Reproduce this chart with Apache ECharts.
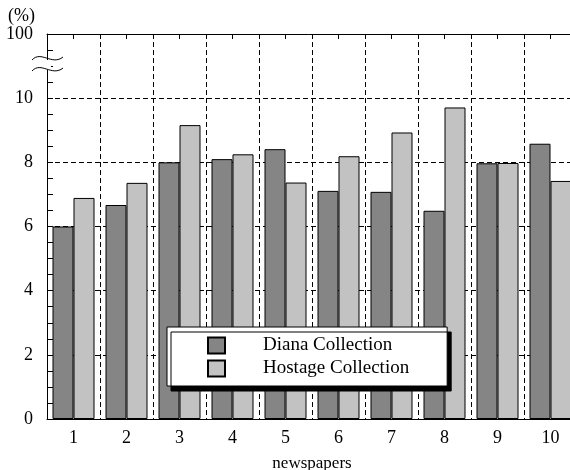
<!DOCTYPE html>
<html>
<head>
<meta charset="utf-8">
<title>Diana vs Hostage Collection</title>
<script src="https://cdn.jsdelivr.net/npm/echarts@6/dist/echarts.min.js"></script>
<style>
  html, body { margin: 0; padding: 0; background: #fff; }
  #chart { width: 570px; height: 470px; }
</style>
</head>
<body>
<div id="chart"></div>
<script>
// data
var newspapers = ['1', '2', '3', '4', '5', '6', '7', '8', '9', '10'];
var dianaShare = [6.0, 6.67, 8.0, 8.1, 8.41, 7.11, 7.08, 6.49, 7.97, 8.58];
var hostageShare = [6.89, 7.36, 9.16, 8.25, 7.37, 8.19, 8.93, 9.71, 7.98, 7.42];
// the top of the axis (12 on the linear scale) stands for 100 after the break
var yTickLabels = { 0: '0', 2: '2', 4: '4', 6: '6', 8: '8', 10: '10', 12: '100' };

var serif = '"Liberation Serif", "DejaVu Serif", serif';
var dashed = { color: '#000', width: 1, type: [5, 3] };

var chart = echarts.init(document.getElementById('chart'));

var option = {
  animation: false,
  backgroundColor: '#fff',
  // plot runs past the right edge in the original, so no clamping
  grid: { left: 47, right: -7, top: 34, bottom: 51, outerBoundsMode: 'none' },
  legend: {
    orient: 'vertical',
    left: 167,
    top: 327,
    icon: 'rect',
    itemWidth: 17,
    itemHeight: 16,
    itemGap: 4,
    padding: [9, 38, 8, 40],
    backgroundColor: '#fff',
    borderColor: '#000',
    borderWidth: 1,
    shadowColor: '#000',
    shadowBlur: 0,
    shadowOffsetX: 4,
    shadowOffsetY: 5,
    textStyle: { fontFamily: serif, fontSize: 19, color: '#000', padding: [0, 0, 0, 33] }
  },
  xAxis: [
    {
      type: 'category',
      data: newspapers,
      name: 'newspapers',
      nameLocation: 'middle',
      nameGap: 36,
      nameTextStyle: { fontFamily: serif, fontSize: 17, color: '#000' },
      axisLine: { lineStyle: { color: '#000', width: 1 } },
      axisTick: { show: false },
      axisLabel: { fontFamily: serif, fontSize: 18, color: '#000', margin: 10 },
      splitLine: { show: true, lineStyle: dashed }
    },
    {
      // top frame with small ticks at the category centres
      type: 'category',
      position: 'top',
      data: newspapers,
      axisLine: { show: true, lineStyle: { color: '#000', width: 1 } },
      axisTick: { show: true, alignWithLabel: true, inside: true, length: 5, lineStyle: { color: '#000' } },
      axisLabel: { show: false },
      splitLine: { show: false }
    }
  ],
  yAxis: {
    type: 'value',
    min: 0,
    max: 12,
    interval: 2,
    name: '(%)',
    nameLocation: 'end',
    nameGap: 8,
    nameTextStyle: { fontFamily: serif, fontSize: 18, color: '#000', align: 'right', padding: [0, 12, 0, 0] },
    axisLine: { show: true, lineStyle: { color: '#000', width: 1 } },
    axisTick: { show: true, inside: true, length: 6, lineStyle: { color: '#000' } },
    minorTick: { show: true, splitNumber: 4, length: 6, lineStyle: { color: '#000' } },
    axisLabel: {
      fontFamily: serif, fontSize: 18, color: '#000', margin: 14,
      formatter: function (v) { return yTickLabels[v] !== undefined ? yTickLabels[v] : ''; }
    },
    splitLine: { show: true, lineStyle: dashed }
  },
  series: [
    {
      name: 'Diana Collection',
      type: 'bar',
      data: dianaShare,
      barWidth: 21,
      barGap: '0%',
      itemStyle: { color: '#858585', borderColor: '#000', borderWidth: 1 }
    },
    {
      name: 'Hostage Collection',
      type: 'bar',
      data: hostageShare,
      barWidth: 21,
      barGap: '0%',
      itemStyle: { color: '#c2c2c2', borderColor: '#000', borderWidth: 1 }
    }
  ],
  graphic: [
    // axis break mark between 10 and 100
    { type: 'rect', shape: { x: 43, y: 60, width: 8, height: 10 }, style: { fill: '#fff' }, z: 100 },
    {
      type: 'bezierCurve', z: 101,
      shape: { x1: 32, y1: 60, cpx1: 41, cpy1: 50, cpx2: 52, cpy2: 66, x2: 63, y2: 57 },
      style: { stroke: '#000', lineWidth: 1, fill: null }
    },
    {
      type: 'bezierCurve', z: 101,
      shape: { x1: 32, y1: 71, cpx1: 41, cpy1: 61, cpx2: 52, cpy2: 77, x2: 63, y2: 68 },
      style: { stroke: '#000', lineWidth: 1, fill: null }
    }
  ]
};

chart.setOption(option);
</script>
</body>
</html>
